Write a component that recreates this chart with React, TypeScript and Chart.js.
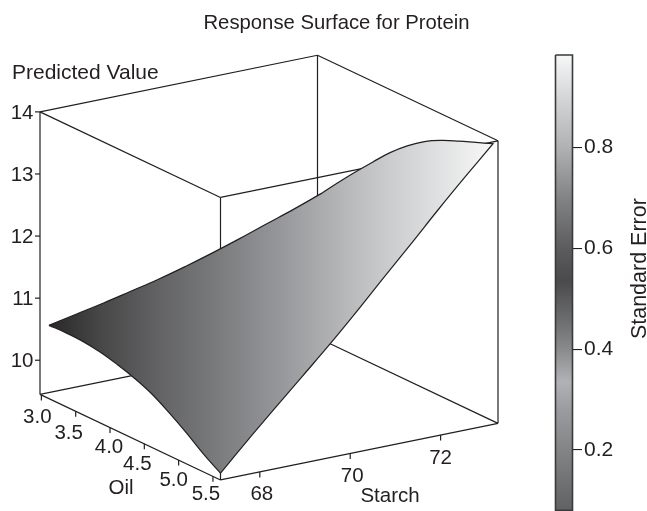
import React, { useEffect, useRef } from "react";
import { Chart, registerables } from "chart.js";

Chart.register(...registerables);

const INK = "#231f20";
const FONT = '"Liberation Sans", Arial, sans-serif';

// Axis ranges of the 3D box
const oilRange = [2.98, 5.61];
const starchRange = [67.13, 73.27];
const zRange = [9.45, 14];

// Tick values
const oilTicks = [3.0, 3.5, 4.0, 4.5, 5.0, 5.5];
const starchTicks = [68, 70, 72];
const zTicks = [10, 11, 12, 13, 14];
const seTicks = [0.2, 0.4, 0.6, 0.8];

// Surface boundary samples
const oilGrid = [3.11, 3.36, 3.61, 3.86, 4.11, 4.36, 4.61, 4.86, 5.11, 5.36, 5.61];
const starchGrid = [67.13, 67.73, 68.34, 68.94, 69.54, 70.15, 70.75, 71.35, 71.95, 72.56, 73.16];
const zAtStarchMin = [10.63, 10.64, 10.63, 10.59, 10.52, 10.43, 10.31, 10.14, 9.95, 9.74, 9.56];
const zAtStarchMax = [11.86, 12.17, 12.47, 12.76, 13.04, 13.28, 13.48, 13.63, 13.75, 13.86, 13.97];
const zAtOilMin = [10.63, 10.72, 10.81, 10.91, 11.01, 11.13, 11.26, 11.4, 11.55, 11.7, 11.86];
const zAtOilMax = [9.56, 10.0, 10.43, 10.85, 11.27, 11.72, 12.18, 12.63, 13.09, 13.54, 13.97];

// Colour bar: value -> grey
const seStops = [0.984, 0.9, 0.8, 0.7, 0.6, 0.537, 0.45, 0.4, 0.336, 0.28, 0.2, 0.12, 0.08];
const seGrays = ["#f6f7f7", "#d5d6d8", "#b0b1b3", "#828385", "#5c5c5e", "#4a4a4c", "#707173", "#8a8b8d", "#b0b2b5", "#9a9b9e", "#838486", "#6b6c6e", "#606163"];

// Surface shade, left to right
const surfaceStops = [0, 0.115, 0.25, 0.385, 0.52, 0.61, 0.745, 0.88, 1];
const surfaceGrays = ["#2a2829", "#474748", "#636365", "#7b7c7e", "#96979a", "#a9abad", "#c7c8ca", "#e0e1e2", "#f8f8f8"];

// Projection of the box onto the plane of the main scales
const project = (oil: number, starch: number, z: number) => {
  const u = (oil - oilRange[0]) / (oilRange[1] - oilRange[0]);
  const v = (starch - starchRange[0]) / (starchRange[1] - starchRange[0]);
  const w = (z - zRange[0]) / (zRange[1] - zRange[0]);
  return { x: 40 + 180.5 * u + 277.5 * v, y: 395 + 85.7 * u - 56.7 * v - 283 * w };
};

const line = (data: { x: number; y: number }[], extra: any = {}) => ({
  type: "scatter",
  showLine: true,
  pointRadius: 0,
  borderColor: INK,
  borderWidth: 1.2,
  fill: false,
  clip: false,
  data,
  ...extra,
});

const [oMin, oMax] = oilRange;
const [sMin, sMax] = starchRange;
const [zMin, zMax] = zRange;

const boxEdges: [number, number, number, number, number, number][] = [
  [oMin, sMin, zMax, oMax, sMin, zMax],
  [oMax, sMin, zMax, oMax, sMax, zMax],
  [oMax, sMax, zMax, oMin, sMax, zMax],
  [oMin, sMax, zMax, oMin, sMin, zMax],
  [oMin, sMin, zMin, oMax, sMin, zMin],
  [oMax, sMin, zMin, oMax, sMax, zMin],
  [oMax, sMax, zMin, oMin, sMax, zMin],
  [oMin, sMax, zMin, oMin, sMin, zMin],
  [oMin, sMin, zMin, oMin, sMin, zMax],
  [oMax, sMin, zMin, oMax, sMin, zMax],
  [oMax, sMax, zMin, oMax, sMax, zMax],
  [oMin, sMax, zMin, oMin, sMax, zMax],
];

// Each side keeps both of its end points, so the corners stay sharp under the curve tension.
const surfaceOutline = [
  ...starchGrid.map((s, i) => project(oilGrid[0], s, zAtOilMin[i])),
  ...oilGrid.map((o, i) => project(o, starchGrid[10], zAtStarchMax[i])),
  ...starchGrid.map((s, i) => project(oilGrid[10], s, zAtOilMax[i])).reverse(),
  ...oilGrid.map((o, i) => project(o, starchGrid[0], zAtStarchMin[i])).reverse(),
];

const tickLen = 5.5;
const oilTickMarks = oilTicks.map((o) => {
  const p = project(o, sMin, zMin);
  return [p, { x: p.x, y: p.y + tickLen }];
});
const starchTickMarks = starchTicks.map((s) => {
  const p = project(oMax, s, zMin);
  return [p, { x: p.x, y: p.y + tickLen }];
});
const zTickMarks = zTicks.map((z) => {
  const p = project(oMin, sMin, z);
  return [{ x: p.x - 5, y: p.y }, p];
});

// Label placement relative to the tick's foot
const oilLabelShift = [[-4, 22], [-7, 22], [-1, 20], [-7, 21], [-5, 20], [-7, 18]];
const starchLabelShift = [[2, 22], [2, 23], [0, 23]];

const labelsPlugin = {
  id: "labels3d",
  afterDraw(chart: any) {
    const { ctx, scales } = chart;
    const X = (v: number) => scales.x.getPixelForValue(v);
    const Y = (v: number) => scales.y.getPixelForValue(v);
    const text = (s: string, x: number, y: number, size: number, align: CanvasTextAlign = "center") => {
      ctx.font = `${size}px ${FONT}`;
      ctx.textAlign = align;
      ctx.textBaseline = "middle";
      ctx.fillStyle = INK;
      ctx.fillText(s, x, y);
    };
    ctx.save();
    zTicks.forEach((z) => {
      const p = project(oMin, sMin, z);
      text(String(z), X(p.x - 6.5), Y(p.y + 1), 20.5, "right");
    });
    oilTicks.forEach((o, i) => {
      const p = project(o, sMin, zMin);
      text(o.toFixed(1), X(p.x + oilLabelShift[i][0]), Y(p.y + oilLabelShift[i][1]), 20.5);
    });
    starchTicks.forEach((s, i) => {
      const p = project(oMax, s, zMin);
      text(String(s), X(p.x + starchLabelShift[i][0]), Y(p.y + starchLabelShift[i][1]), 20.5);
    });
    text("Predicted Value", X(12), Y(73), 21, "left");
    text("Oil", X(121), Y(489), 20.5);
    text("Starch", X(390), Y(497), 20.5);
    ctx.translate(X(640), Y(269));
    ctx.rotate(-Math.PI / 2);
    text("Standard Error", 0, 0, 21.5);
    ctx.restore();
  },
};

export default function App() {
  const ref = useRef<HTMLCanvasElement>(null);
  useEffect(() => {
    const canvas = ref.current!;
    const chart: any = new Chart(canvas, {
      type: "scatter",
      data: {
        datasets: [
          line([...surfaceOutline, surfaceOutline[0]], { fill: "shape", backgroundColor: "#888", tension: 0.4 }),
          line(
            [
              { x: 555.5, y: seStops[0] },
              { x: 572.5, y: seStops[0] },
              { x: 572.5, y: 0.0804 },
              { x: 555.5, y: 0.0804 },
              { x: 555.5, y: seStops[0] },
            ],
            { yAxisID: "se", fill: "shape", backgroundColor: "#888", borderColor: "#3a3a3a", borderWidth: 1.6 }
          ),
          ...boxEdges.map((e) => line([project(e[0], e[1], e[2]), project(e[3], e[4], e[5])])),
          ...oilTickMarks.map((t) => line(t)),
          ...starchTickMarks.map((t) => line(t)),
          ...zTickMarks.map((t) => line(t)),
        ],
      } as any,
      options: {
        responsive: false,
        animation: false,
        layout: { padding: { left: 26, top: 0, right: 0, bottom: 0 } },
        plugins: {
          legend: { display: false },
          tooltip: { enabled: false },
          title: {
            display: true,
            text: "Response Surface for Protein",
            color: INK,
            font: { family: FONT, size: 20.3, weight: "normal", lineHeight: 25 / 20.3 },
            padding: { top: 11, bottom: 4 },
          },
        },
        scales: {
          x: { type: "linear", min: 26, max: 573, display: false },
          y: { type: "linear", min: 40, max: 511, reverse: true, display: false },
          se: {
            type: "linear",
            position: "right",
            min: 0.0804,
            max: 1.0137,
            afterBuildTicks: (s: any) => {
              s.ticks = seTicks.map((value) => ({ value }));
            },
            afterFit: (s: any) => {
              s.width = 74;
              s.paddingTop = 0;
              s.paddingBottom = 0;
            },
            border: { display: false },
            grid: { drawOnChartArea: false, drawTicks: true, tickLength: 9, color: INK, lineWidth: 1.1 },
            ticks: {
              color: INK,
              padding: 2,
              font: { family: FONT, size: 21 },
              callback: (v: any) => Number(v).toFixed(1),
            },
          },
        },
      } as any,
      plugins: [labelsPlugin],
    });
    // Gradients need the laid-out scales.
    const ctx = chart.ctx;
    const xs = chart.scales.x;
    const ss = chart.scales.se;
    const surfaceG = ctx.createLinearGradient(xs.getPixelForValue(49), 0, xs.getPixelForValue(493), 0);
    surfaceStops.forEach((s, i) => surfaceG.addColorStop(s, surfaceGrays[i]));
    const first = seStops[0];
    const last = seStops[seStops.length - 1];
    const barG = ctx.createLinearGradient(0, ss.getPixelForValue(first), 0, ss.getPixelForValue(last));
    seStops.forEach((s, i) => barG.addColorStop((s - first) / (last - first), seGrays[i]));
    chart.data.datasets[0].backgroundColor = surfaceG;
    chart.data.datasets[1].backgroundColor = barG;
    chart.update("none");
    return () => chart.destroy();
  }, []);
  return (
    <div style={{ position: "absolute", left: 0, top: 0, width: 647, height: 511, background: "#fff" }}>
      <canvas ref={ref} width={647} height={511} style={{ display: "block" }} />
    </div>
  );
}
